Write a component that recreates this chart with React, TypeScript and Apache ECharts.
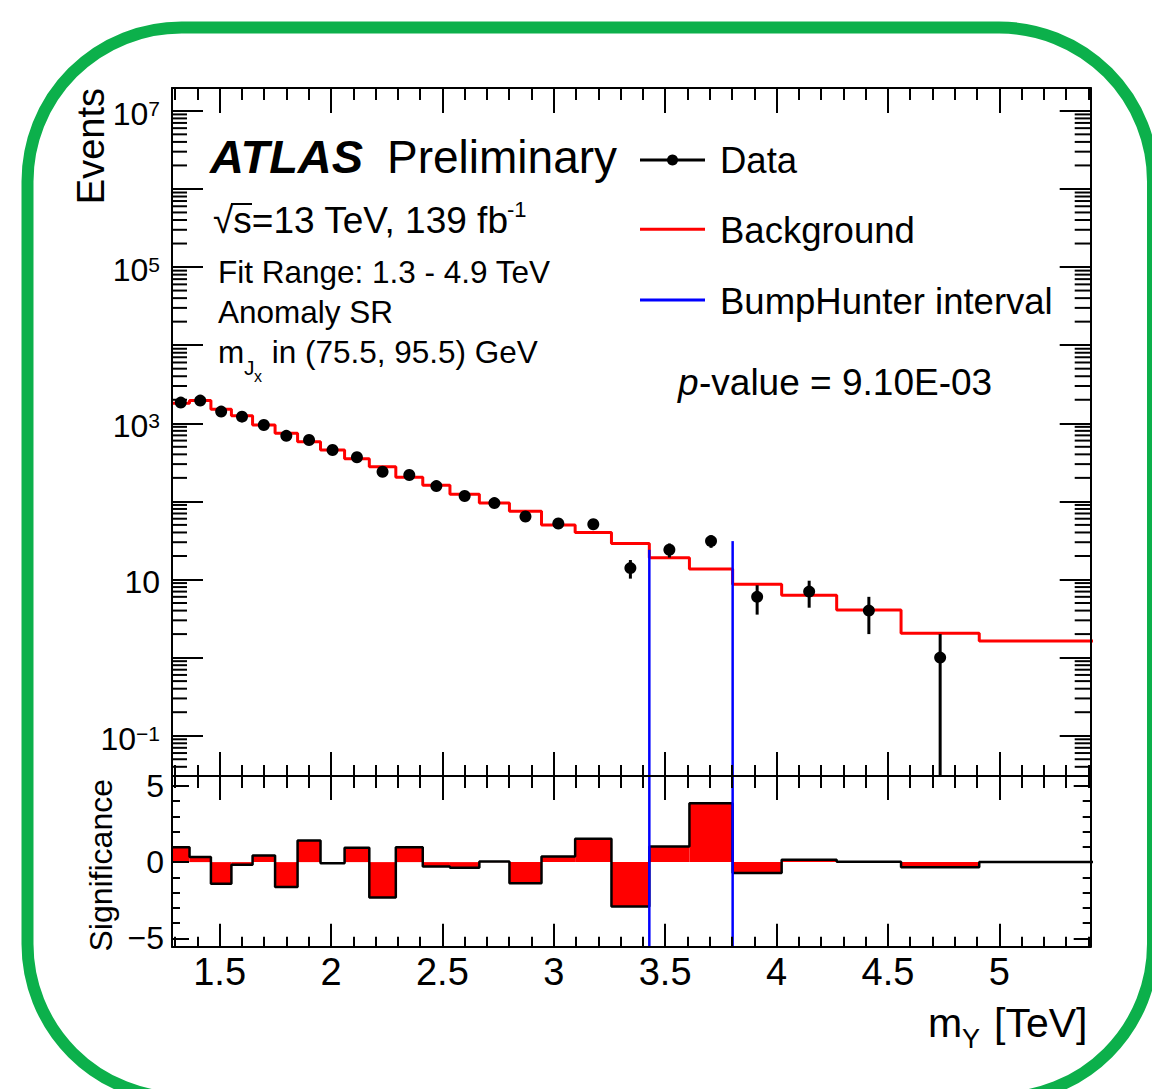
import React, { useEffect, useRef } from 'react';
import * as echarts from 'echarts';

const FONT = "'Liberation Sans', Arial, Helvetica, sans-serif";

// ---- axis ranges ----
const X_MIN = 1.2863;
const X_MAX = 5.4103;
const Y_MIN = 0.0305;
const Y_MAX = 1.96e7;
const SIG_MIN = -5.55;
const SIG_MAX = 5.65;

// ---- data ----
const binEdges = [1.2863, 1.365, 1.461, 1.553, 1.648, 1.749, 1.85, 1.953, 2.061, 2.172, 2.291, 2.412, 2.534, 2.666, 2.801, 2.945, 3.096, 3.259, 3.429, 3.609, 3.803, 4.023, 4.27, 4.559, 4.91, 5.5];
const dataEvents = [1840, 1950, 1410, 1215, 950, 690, 610, 455, 367, 240, 218, 157, 117, 95, 64, 52, 51, 14, 24, 31, 6, 7, 4, 1];
const backgroundFit = [1800, 1950, 1510, 1250, 950, 745, 581, 455, 352, 278, 204, 161, 123, 95, 75, 50, 40, 29, 19, 13.6, 8.7, 6.3, 4.06, 2.05, 1.63];
const significance = [0.98, 0.33, -1.42, -0.17, 0.43, -1.64, 1.42, -0.07, 0.95, -2.33, 0.98, -0.29, -0.37, 0.04, -1.38, 0.37, 1.54, -2.91, 1.03, 3.87, -0.72, 0.16, 0.03, -0.33, 0];
const bumpHunterEdges = [3.429, 3.803];
const bumpHunterTops = [24, 31];
const xTickLabels = ['1.5', '2', '2.5', '3', '3.5', '4', '4.5', '5'];
const yLabelExponents = [-1, 1, 3, 5, 7];
const sigTickLabels = [-5, 0, 5];

const binCenters = dataEvents.map((_, i) => (binEdges[i] + binEdges[i + 1]) / 2);

const logMinorTicks: number[] = [];
for (let e = -2; e <= 7; e++) {
  for (let k = 2; k <= 9; k++) {
    const v = k * Math.pow(10, e);
    if (v > Y_MIN && v < Y_MAX) logMinorTicks.push(v);
  }
}

const BLACK = '#000000';
const RED = '#ff0000';
const BLUE = '#0000ff';
const GREEN = '#0cb04b';
const lineStyleAxis = { color: BLACK, width: 2 };

function xAxis(gridIndex: number, position: string, major: number, minor: number, showLabel: boolean) {
  return {
    type: 'value',
    gridIndex,
    position,
    min: X_MIN,
    max: X_MAX,
    splitNumber: 8,
    z: 5,
    axisLine: { show: true, onZero: false, lineStyle: lineStyleAxis },
    axisTick: { show: true, inside: true, length: major, lineStyle: lineStyleAxis },
    minorTick: { show: true, splitNumber: 5, length: minor, lineStyle: lineStyleAxis },
    splitLine: { show: false },
    minorSplitLine: { show: false },
    axisLabel: showLabel
      ? {
          show: true,
          margin: 6,
          color: BLACK,
          fontSize: 38,
          fontFamily: FONT,
          formatter: (v: number) => {
            const s = String(Math.round(v * 10) / 10);
            return xTickLabels.includes(s) && Math.abs(v * 2 - Math.round(v * 2)) < 1e-6 ? s : '';
          },
        }
      : { show: false },
  };
}

function logYAxis(position: string, showLabel: boolean) {
  return {
    type: 'log',
    logBase: 10,
    gridIndex: 0,
    position,
    min: Y_MIN,
    max: Y_MAX,
    splitNumber: 10,
    z: 5,
    axisLine: { show: true, onZero: false, lineStyle: lineStyleAxis },
    axisTick: { show: true, inside: true, length: 31, lineStyle: lineStyleAxis },
    minorTick: { show: false },
    splitLine: { show: false },
    axisLabel: showLabel
      ? {
          show: true,
          margin: 12,
          color: BLACK,
          fontSize: 32,
          fontFamily: FONT,
          padding: [6, 0, 0, 0],
          formatter: (v: number) => {
            const e = Math.log10(v);
            const r = Math.round(e);
            if (Math.abs(e - r) > 1e-6 || !yLabelExponents.includes(r)) return '';
            if (r === 1) return '{b|10}';
            return '{b|10}{s|' + (r < 0 ? '\u2212' + -r : String(r)) + '}';
          },
          rich: {
            b: { fontSize: 32, fontFamily: FONT, color: BLACK },
            s: { fontSize: 21, fontFamily: FONT, color: BLACK, verticalAlign: 'top' },
          },
        }
      : { show: false },
  };
}

function sigYAxis(position: string, showLabel: boolean) {
  return {
    type: 'value',
    gridIndex: 1,
    position,
    min: SIG_MIN,
    max: SIG_MAX,
    splitNumber: 2,
    z: 5,
    axisLine: { show: true, onZero: false, lineStyle: lineStyleAxis },
    axisTick: { show: true, inside: true, length: 17, lineStyle: lineStyleAxis },
    minorTick: { show: true, splitNumber: 5, length: 8, lineStyle: lineStyleAxis },
    splitLine: { show: false },
    minorSplitLine: { show: false },
    axisLabel: showLabel
      ? {
          show: true,
          margin: 8,
          color: BLACK,
          fontSize: 32,
          fontFamily: FONT,
          padding: [6, 0, 0, 0],
          formatter: (v: number) => {
            const r = Math.round(v);
            if (Math.abs(v - r) > 1e-6 || !sigTickLabels.includes(r)) return '';
            return r < 0 ? '\u2212' + -r : String(r);
          },
        }
      : { show: false },
  };
}

function txt(text: string, x: number, baseline: number, size: number, opts: any = {}) {
  const align = opts.align || 'left';
  return {
    type: 'text',
    x,
    y: baseline - 0.35 * size,
    z: 50,
    silent: true,
    style: {
      text,
      fill: BLACK,
      font: `${opts.italic ? 'italic' : 'normal'} ${opts.bold ? 'bold' : 'normal'} ${size}px ${FONT}`,
      align,
      textAlign: align,
      verticalAlign: 'middle',
      textVerticalAlign: 'middle',
    },
  };
}

function rotText(text: string, x: number, yEnd: number, size: number) {
  return {
    type: 'text',
    x,
    y: yEnd,
    rotation: Math.PI / 2,
    z: 50,
    silent: true,
    style: {
      text,
      fill: BLACK,
      font: `normal normal ${size}px ${FONT}`,
      align: 'right',
      textAlign: 'right',
      verticalAlign: 'middle',
      textVerticalAlign: 'middle',
    },
  };
}

function legendLine(y: number, color: string) {
  return {
    type: 'line',
    z: 50,
    silent: true,
    shape: { x1: 640, y1: y, x2: 705, y2: y },
    style: { stroke: color, lineWidth: 3 },
  };
}

function buildOption() {
  const bkgStep = binEdges.map((e, i) => [e, backgroundFit[Math.min(i, backgroundFit.length - 1)]]);
  const sigStep = binEdges.map((e, i) => [e, significance[Math.min(i, significance.length - 1)]]);

  return {
    animation: false,
    backgroundColor: '#ffffff',
    grid: [
      { left: 172, top: 88, width: 918.7, height: 688 },
      { left: 172, top: 776, width: 918.7, height: 170.7 },
    ],
    xAxis: [
      xAxis(0, 'bottom', 24, 11, false),
      xAxis(0, 'top', 25, 12, false),
      xAxis(1, 'bottom', 23, 10, true),
      xAxis(1, 'top', 24, 12, false),
    ],
    yAxis: [logYAxis('left', true), logYAxis('right', false), sigYAxis('left', true), sigYAxis('right', false)],
    series: [
      {
        type: 'line',
        name: 'Background',
        xAxisIndex: 0,
        yAxisIndex: 0,
        step: 'end',
        data: bkgStep,
        symbol: 'none',
        clip: true,
        lineStyle: { color: RED, width: 3 },
        z: 2,
      },
      {
        type: 'custom',
        name: 'BumpHunter interval',
        xAxisIndex: 0,
        yAxisIndex: 0,
        data: bumpHunterEdges.map((x, i) => [x, bumpHunterTops[i]]),
        encode: { x: 0, y: 1 },
        renderItem: (params: any, api: any) => {
          const x = api.value(0);
          const p1 = api.coord([x, api.value(1)]);
          const p2 = api.coord([x, Y_MIN]);
          return { type: 'line', shape: { x1: p1[0], y1: p1[1], x2: p2[0], y2: p2[1] }, style: { stroke: BLUE, lineWidth: 2.5 } };
        },
        z: 3,
      },
      {
        type: 'custom',
        name: 'Data errors',
        xAxisIndex: 0,
        yAxisIndex: 0,
        data: dataEvents.map((n, i) => [binCenters[i], n, Math.max(n - Math.sqrt(n), Y_MIN), n + Math.sqrt(n)]),
        encode: { x: 0, y: 1 },
        renderItem: (params: any, api: any) => {
          const x = api.value(0);
          const p1 = api.coord([x, api.value(3)]);
          const p2 = api.coord([x, api.value(2)]);
          return { type: 'line', shape: { x1: p1[0], y1: p1[1], x2: p2[0], y2: p2[1] }, style: { stroke: BLACK, lineWidth: 3 } };
        },
        z: 4,
      },
      {
        type: 'scatter',
        name: 'Data',
        xAxisIndex: 0,
        yAxisIndex: 0,
        data: dataEvents.map((n, i) => [binCenters[i], n]),
        symbol: 'circle',
        symbolSize: 12,
        itemStyle: { color: BLACK, opacity: 1 },
        z: 4,
      },
      {
        type: 'custom',
        name: 'minor ticks',
        xAxisIndex: 0,
        yAxisIndex: 0,
        silent: true,
        data: logMinorTicks.map((v) => [X_MIN, v]),
        encode: { x: 0, y: 1 },
        renderItem: (params: any, api: any) => {
          const cs = params.coordSys;
          const p = api.coord([X_MIN, api.value(1)]);
          const st = { stroke: BLACK, lineWidth: 2 };
          return {
            type: 'group',
            children: [
              { type: 'line', shape: { x1: cs.x, y1: p[1], x2: cs.x + 15, y2: p[1] }, style: st },
              { type: 'line', shape: { x1: cs.x + cs.width - 16, y1: p[1], x2: cs.x + cs.width, y2: p[1] }, style: st },
            ],
          };
        },
        z: 6,
      },
      {
        type: 'custom',
        name: 'Significance',
        xAxisIndex: 2,
        yAxisIndex: 2,
        data: significance.map((s, i) => [binEdges[i], Math.min(binEdges[i + 1], X_MAX), s]),
        encode: { x: [0, 1], y: 2 },
        renderItem: (params: any, api: any) => {
          const p1 = api.coord([api.value(0), 0]);
          const p2 = api.coord([api.value(1), api.value(2)]);
          return {
            type: 'rect',
            shape: { x: p1[0], y: Math.min(p1[1], p2[1]), width: p2[0] - p1[0], height: Math.abs(p2[1] - p1[1]) },
            style: { fill: RED },
          };
        },
        z: 2,
      },
      {
        type: 'line',
        name: 'Significance outline',
        xAxisIndex: 2,
        yAxisIndex: 2,
        step: 'end',
        data: sigStep,
        symbol: 'none',
        clip: true,
        lineStyle: { color: BLACK, width: 2.5 },
        z: 3,
      },
      {
        type: 'custom',
        name: 'BumpHunter interval lower',
        xAxisIndex: 2,
        yAxisIndex: 2,
        data: bumpHunterEdges.map((x) => [x, SIG_MAX]),
        encode: { x: 0, y: 1 },
        renderItem: (params: any, api: any) => {
          const x = api.value(0);
          const p1 = api.coord([x, SIG_MAX]);
          const p2 = api.coord([x, SIG_MIN]);
          return { type: 'line', shape: { x1: p1[0], y1: p1[1], x2: p2[0], y2: p2[1] }, style: { stroke: BLUE, lineWidth: 2.5 } };
        },
        z: 4,
      },
    ],
    graphic: {
      elements: [
        {
          type: 'rect',
          z: 60,
          silent: true,
          shape: { x: 27.5, y: 27.5, width: 1125.5, height: 1070.5, r: 154 },
          style: { fill: 'none', stroke: GREEN, lineWidth: 12 },
        },
        txt('ATLAS', 210, 173, 47, { bold: true, italic: true }),
        txt('Preliminary', 387, 173, 46),
        txt('\u221As=13 TeV, 139 fb', 213, 233, 37),
        {
          type: 'line',
          z: 50,
          silent: true,
          shape: { x1: 231, y1: 204, x2: 252, y2: 204 },
          style: { stroke: BLACK, lineWidth: 2 },
        },
        txt('-1', 507, 216.7, 22),
        txt('Fit Range: 1.3 - 4.9 TeV', 218, 283.3, 31.5),
        txt('Anomaly SR', 218, 323.3, 31.5),
        txt('m', 218, 363.3, 31.5),
        txt('J', 244, 375, 21),
        txt('x', 254, 381.7, 16),
        txt('in (75.5, 95.5) GeV', 271.7, 363.3, 31.5),
        legendLine(160, BLACK),
        { type: 'circle', z: 51, silent: true, shape: { cx: 672.5, cy: 160, r: 5.5 }, style: { fill: BLACK } },
        txt('Data', 720, 173.3, 36.5),
        legendLine(229.3, RED),
        txt('Background', 720, 243, 36.5),
        legendLine(300, BLUE),
        txt('BumpHunter interval', 720, 314, 36.5),
        txt('p', 678, 395, 37, { italic: true }),
        txt('-value = 9.10E-03', 699, 395, 37),
        rotText('Events', 90.5, 88, 38),
        rotText('Significance', 101, 779, 32),
        txt('m', 928, 1037, 41),
        txt('Y', 962, 1048, 27),
        txt('[TeV]', 994, 1037, 41),
      ],
    },
  };
}

export default function App() {
  const ref = useRef<HTMLDivElement>(null);
  useEffect(() => {
    if (!ref.current) return;
    const chart = echarts.init(ref.current, undefined, { renderer: 'svg' });
    chart.setOption(buildOption() as any);
    return () => chart.dispose();
  }, []);
  return (
    <div
      ref={ref}
      style={{ position: 'absolute', left: 0, top: 0, width: 1152, height: 1089, background: '#ffffff' }}
    />
  );
}
